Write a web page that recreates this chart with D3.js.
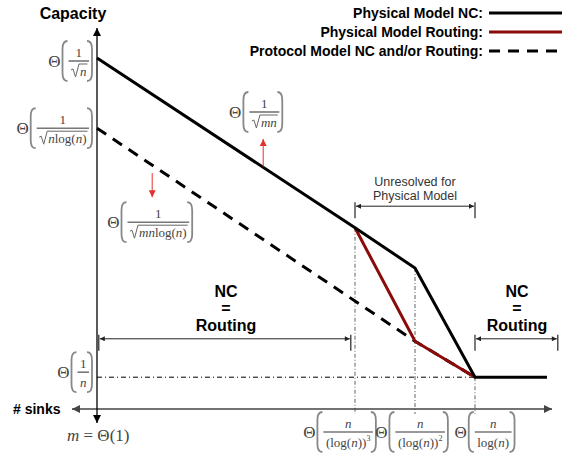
<!DOCTYPE html>
<html>
<head>
<meta charset="utf-8">
<script src="https://cdn.jsdelivr.net/npm/d3@7"></script>
<style>
  body { margin: 0; background: #fff; }
  .lbl { font-family: "Liberation Sans", Arial, sans-serif; font-weight: bold; fill: #000; }
  .math text { font-family: "Liberation Serif", "Times New Roman", serif; fill: #444; }
</style>
</head>
<body>
<svg id="chart" width="572" height="455"></svg>
<script>
// schematic units: x ~ log(# sinks), y ~ log(capacity)
var physicalNC = [[0, 5.85], [4.3, 3.02], [5.3, 2.35], [6.3, 0.53], [7.5, 0.53]];
var physicalRouting = [[4.3, 3.02], [5.3, 1.13], [6.3, 0.53]];
var protocolModel = [[0, 4.68], [5.3, 1.13], [6.3, 0.53]];

var xTicks = [4.3, 5.3, 6.3];
var yTicks = [5.85, 4.68, 0.53];

// math tokens: [text, style]  style: i = italic, sup = superscript
var yTickLabels = [
  {num: [["1"]], den: [["n", "i"]], rad: true},
  {num: [["1"]], den: [["n", "i"], ["log("], ["n", "i"], [")"]], rad: true},
  {num: [["1"]], den: [["n", "i"]], rad: false}
];
var xTickLabels = [
  {num: [["n", "i"]], den: [["(log("], ["n", "i"], [")"], [")"], ["3", "sup"]], rad: false},
  {num: [["n", "i"]], den: [["(log("], ["n", "i"], [")"], [")"], ["2", "sup"]], rad: false},
  {num: [["n", "i"]], den: [["log("], ["n", "i"], [")"]], rad: false}
];
var slopeLabels = [
  {num: [["1"]], den: [["mn", "i"]], rad: true},
  {num: [["1"]], den: [["mn", "i"], ["log("], ["n", "i"], [")"]], rad: true}
];

var legendLabels = ["Physical Model NC:", "Physical Model Routing:", "Protocol Model NC and/or Routing:"];

var redArrows = [{x: 2.77, y0: 4.04, y1: 4.5}, {x: 0.92, y0: 3.93, y1: 3.53}];
var ranges = [
  {x0: 0.03, x1: 4.23, y: 1.17},
  {x0: 4.3, x1: 6.3, y: 3.38},
  {x0: 6.3, x1: 7.68, y: 1.17}
];

var svg = d3.select('#chart');
var x = d3.scaleLinear().domain([0, 7.6]).range([97, 553]);
var y = d3.scaleLinear().domain([0, 6.3]).range([409, 31]);

var defs = svg.append('defs');
function marker(id, color, w, h) {
  defs.append('marker')
    .attr('id', id)
    .attr('viewBox', '0 0 10 10')
    .attr('refX', 10).attr('refY', 5)
    .attr('markerUnits', 'userSpaceOnUse')
    .attr('markerWidth', w).attr('markerHeight', h)
    .attr('orient', 'auto-start-reverse')
    .append('path').attr('d', 'M0,0L10,5L0,10z').attr('fill', color);
}
marker('ax', '#000', 10, 8);
marker('axg', '#444', 10, 8);
marker('red', '#e53030', 8, 7);
marker('rng', '#222', 7, 5);

// helper lines (dash-dot)
svg.append('line')
  .attr('x1', x(0)).attr('x2', x(6.3))
  .attr('y1', y(0.53)).attr('y2', y(0.53))
  .attr('stroke', '#000').attr('stroke-width', 1)
  .attr('stroke-dasharray', '5,3,1,3');

svg.selectAll('.vdrop')
  .data(xTicks)
  .enter().append('line')
  .attr('class', 'vdrop')
  .attr('x1', function (d) { return x(d); })
  .attr('x2', function (d) { return x(d); })
  .attr('y1', function (d, i) { return y([3.02, 2.35, 0.53][i]); })
  .attr('y2', 414)
  .attr('stroke', '#888').attr('stroke-width', 1.3)
  .attr('stroke-dasharray', '4,2,1,2');

// axes
svg.append('line')
  .attr('x1', 72).attr('x2', 552).attr('y1', y(0)).attr('y2', y(0))
  .attr('stroke', '#444').attr('stroke-width', 1.6)
  .attr('marker-start', 'url(#axg)').attr('marker-end', 'url(#axg)');
svg.append('line')
  .attr('x1', x(0)).attr('x2', x(0)).attr('y1', 423).attr('y2', 28)
  .attr('stroke', '#000').attr('stroke-width', 1.3)
  .attr('marker-start', 'url(#ax)').attr('marker-end', 'url(#ax)');

// curves
var line = d3.line().x(function (d) { return x(d[0]); }).y(function (d) { return y(d[1]); });
svg.append('path').datum(protocolModel).attr('d', line)
  .attr('fill', 'none').attr('stroke', '#000').attr('stroke-width', 3)
  .attr('stroke-dasharray', '11,8');
svg.append('path').datum(physicalRouting).attr('d', line)
  .attr('fill', 'none').attr('stroke', '#8b0a0a').attr('stroke-width', 3);
svg.append('path').datum(physicalNC).attr('d', line)
  .attr('fill', 'none').attr('stroke', '#000').attr('stroke-width', 3);

// red arrows
svg.selectAll('.redarrow')
  .data(redArrows)
  .enter().append('line')
  .attr('x1', function (d) { return x(d.x); }).attr('x2', function (d) { return x(d.x); })
  .attr('y1', function (d) { return y(d.y0); }).attr('y2', function (d) { return y(d.y1); })
  .attr('stroke', '#e53030').attr('stroke-width', 1)
  .attr('marker-end', 'url(#red)');

// range brackets
ranges.forEach(function (r) {
  var yy = y(r.y);
  svg.append('line')
    .attr('x1', x(r.x0) + 1).attr('x2', x(r.x1) - 1).attr('y1', yy).attr('y2', yy)
    .attr('stroke', '#222').attr('stroke-width', 1)
    .attr('marker-start', 'url(#rng)').attr('marker-end', 'url(#rng)');
  [r.x0, r.x1].forEach(function (v) {
    svg.append('line')
      .attr('x1', x(v)).attr('x2', x(v)).attr('y1', yy - 4).attr('y2', yy + 12)
      .attr('stroke', '#222').attr('stroke-width', 1.2);
  });
});

// math labels
function addTokens(t, toks) {
  toks.forEach(function (k) {
    var s = t.append('tspan').text(k[0]);
    if (k[1] == 'i') s.attr('font-style', 'italic');
    if (k[1] == 'sup') s.attr('font-size', 8).attr('dy', -6);
  });
  return t;
}
function paren(g, px, dir, h) {
  var c = px + 5 * dir;
  g.append('path')
    .attr('d', 'M' + c + ',' + (-h) + 'Q' + px + ',' + (-h) + ' ' + px + ',' + (-h + 8) +
      'L' + px + ',' + (h - 8) + 'Q' + px + ',' + h + ' ' + c + ',' + h)
    .attr('fill', 'none').attr('stroke', '#888').attr('stroke-width', 1.8);
}
function mathLabel(spec, anchor, px, py) {
  var g = svg.append('g').attr('class', 'math');
  var th = g.append('text').attr('x', 0).attr('y', 6).attr('font-size', 17).text('\u0398');
  var wT = th.node().getComputedTextLength();
  var x0 = wT + 8;
  var num = addTokens(g.append('text').attr('font-size', 13), spec.num);
  var den = addTokens(g.append('text').attr('font-size', 13), spec.den);
  var wn = num.node().getComputedTextLength();
  var wd = den.node().getComputedTextLength();
  var rad = spec.rad ? 9 : 0;
  var W = Math.max(wn, wd + rad) + 5;
  num.attr('x', x0 + W / 2 - wn / 2).attr('y', -4);
  var dx = x0 + W / 2 - (wd + rad) / 2;
  den.attr('x', dx + rad).attr('y', 15);
  g.append('line').attr('x1', x0).attr('x2', x0 + W).attr('y1', 0).attr('y2', 0)
    .attr('stroke', '#777').attr('stroke-width', 1.6);
  if (spec.rad) {
    g.append('path')
      .attr('d', 'M' + dx + ',9L' + (dx + 2) + ',8L' + (dx + 4.5) + ',16L' + (dx + 8) + ',3L' + (dx + rad + wd + 1) + ',3')
      .attr('fill', 'none').attr('stroke', '#666').attr('stroke-width', 1);
  }
  paren(g, wT + 2, 1, 20);
  paren(g, x0 + W + 3, -1, 20);
  var total = x0 + W + 4;
  var tx = anchor == 'end' ? px - total : (anchor == 'middle' ? px - total / 2 : px);
  g.attr('transform', 'translate(' + tx + ',' + py + ')');
}

yTicks.forEach(function (v, i) {
  mathLabel(yTickLabels[i], 'end', 93, y(v) + [3, 0, -5][i]);
});
xTicks.forEach(function (v, i) {
  mathLabel(xTickLabels[i], 'middle', x(v) + [-15, -3, 10][i], 432);
});
mathLabel(slopeLabels[0], 'middle', x(redArrows[0].x) - 7, y(redArrows[0].y1) - 27);
mathLabel(slopeLabels[1], 'middle', x(redArrows[1].x) - 2, y(redArrows[1].y1) + 25);

var m1 = svg.append('g').attr('class', 'math').append('text')
  .attr('x', 67).attr('y', 441).attr('font-size', 17);
m1.append('tspan').attr('font-style', 'italic').text('m');
m1.append('tspan').text(' = \u0398(1)');

// text labels
svg.append('text').attr('class', 'lbl').attr('x', 73).attr('y', 19)
  .attr('text-anchor', 'middle').attr('font-size', 16).text('Capacity');
svg.append('text').attr('class', 'lbl').attr('x', 13).attr('y', 414)
  .attr('font-size', 14).text('# sinks');

[226, 517].forEach(function (cx) {
  ['NC', '=', 'Routing'].forEach(function (s, i) {
    svg.append('text').attr('class', 'lbl').attr('x', cx).attr('y', 297 + i * 17)
      .attr('text-anchor', 'middle').attr('font-size', 16).text(s);
  });
});

['Unresolved for', 'Physical Model'].forEach(function (s, i) {
  svg.append('text').attr('x', 415).attr('y', 186 + i * 14)
    .attr('text-anchor', 'middle').attr('font-size', 12.5)
    .attr('font-family', '"Liberation Sans", Arial, sans-serif').attr('fill', '#333').text(s);
});

// legend
var legend = svg.append('g').selectAll('g')
  .data(legendLabels)
  .enter().append('g')
  .attr('transform', function (d, i) { return 'translate(0,' + (13 + i * 19) + ')'; });
legend.append('text').attr('class', 'lbl').attr('x', 483).attr('y', 5)
  .attr('text-anchor', 'end').attr('font-size', 14).text(function (d) { return d; });
legend.append('line').attr('x1', 489).attr('x2', 562).attr('y1', 0).attr('y2', 0)
  .attr('stroke', function (d, i) { return i == 1 ? '#8b0a0a' : '#000'; })
  .attr('stroke-width', 3)
  .attr('stroke-dasharray', function (d, i) { return i == 2 ? '11,8' : null; });
</script>
</body>
</html>
